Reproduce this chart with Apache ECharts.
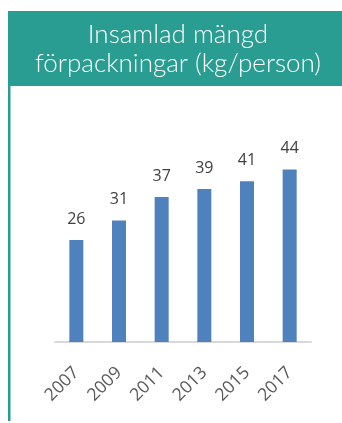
<!DOCTYPE html>
<html>
<head>
<meta charset="utf-8">
<script src="https://cdn.jsdelivr.net/npm/echarts@6/dist/echarts.min.js"></script>
<style>
  html, body { margin: 0; padding: 0; background: #ffffff; }
  #chart { width: 342px; height: 423px; }
</style>
</head>
<body>
<div id="chart"></div>
<script>
// Collected packaging per person, every second year
const years = ['2007', '2009', '2011', '2013', '2015', '2017'];
const kgPerPerson = [26, 31, 37, 39, 41, 44];
const titleText = 'Insamlad mängd\nförpackningar (kg/person)';

const teal = '#299D91';
const chart = echarts.init(document.getElementById('chart'), null, { renderer: 'canvas' });

chart.setOption({
  animation: false,
  title: {
    text: titleText,
    left: 173,
    top: 15,
    textAlign: 'center',
    textStyle: {
      color: '#ffffff',
      fontFamily: 'Lato',
      fontWeight: 300,
      fontSize: 26,
      lineHeight: 29
    }
  },
  graphic: [
    {
      type: 'rect',
      z: -1,
      shape: { x: 8, y: 11, width: 334, height: 75 },
      style: { fill: teal }
    },
    {
      type: 'rect',
      z: -1,
      shape: { x: 8, y: 86, width: 2.5, height: 335 },
      style: { fill: teal }
    }
  ],
  grid: { left: 55, right: 31, top: 146, bottom: 81 },
  xAxis: {
    type: 'category',
    data: years,
    axisLine: { lineStyle: { color: '#d9d9d9', width: 2 } },
    axisTick: { show: false },
    axisLabel: {
      rotate: 45,
      margin: 28,
      color: '#595959',
      fontFamily: 'Open Sans',
      fontSize: 17.5
    }
  },
  yAxis: {
    type: 'value',
    min: 0,
    max: 50,
    show: false,
    splitLine: { show: false }
  },
  series: [
    {
      type: 'bar',
      data: kgPerPerson,
      barWidth: 14,
      itemStyle: { color: '#4F81BD' },
      label: {
        show: true,
        position: 'top',
        distance: 13,
        color: '#404040',
        fontFamily: 'Open Sans',
        fontSize: 16
      }
    }
  ]
});
</script>
</body>
</html>
